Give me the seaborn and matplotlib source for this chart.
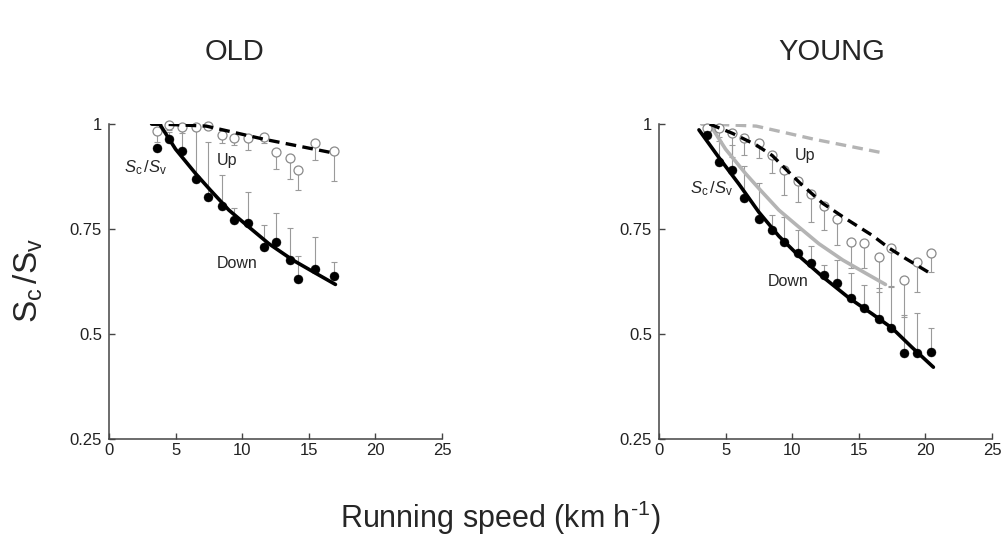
import matplotlib
matplotlib.use("Agg")
import matplotlib.pyplot as plt
import seaborn as sns
import numpy as np

# ---------------- data ----------------
old_speed = [3.6, 4.5, 5.5, 6.5, 7.4, 8.5, 9.4, 10.4, 11.6, 12.5, 13.6, 14.2, 15.5, 16.9]
old_down = [0.944, 0.964, 0.936, 0.870, 0.826, 0.805, 0.771, 0.764, 0.708, 0.718, 0.676, 0.632, 0.654, 0.638]
old_down_hi = [0.944, 0.980, 0.990, 0.986, 0.958, 0.878, 0.799, 0.839, 0.760, 0.787, 0.752, 0.686, 0.730, 0.671]
old_up = [0.984, 0.998, 0.994, 0.994, 0.996, 0.974, 0.966, 0.966, 0.970, 0.934, 0.918, 0.890, 0.955, 0.936]
old_up_lo = [0.958, 0.985, 0.978, 0.994, 0.996, 0.955, 0.950, 0.938, 0.955, 0.894, 0.868, 0.843, 0.914, 0.864]

old_fit_down_x = [3.2, 3.8, 5.0, 6.5, 7.6, 9.0, 10.3, 12.0, 13.8, 15.5, 17.0]
old_fit_down_y = [1.0, 1.0, 0.94, 0.882, 0.843, 0.795, 0.760, 0.715, 0.676, 0.645, 0.618]
old_fit_up_x = [3.2, 4.5, 7.3, 11.6, 17.0]
old_fit_up_y = [1.0, 0.999, 0.995, 0.964, 0.930]

young_speed = [3.6, 4.5, 5.5, 6.4, 7.5, 8.5, 9.4, 10.4, 11.4, 12.4, 13.4, 14.4, 15.4, 16.5, 17.4, 18.4, 19.4, 20.4]
young_down = [0.974, 0.910, 0.890, 0.823, 0.775, 0.748, 0.720, 0.694, 0.668, 0.640, 0.622, 0.585, 0.561, 0.535, 0.514, 0.455, 0.455, 0.458]
young_down_hi = [0.985, 0.960, 0.950, 0.900, 0.860, 0.783, 0.779, 0.748, 0.710, 0.664, 0.676, 0.645, 0.617, 0.609, 0.614, 0.545, 0.549, 0.514]
young_up = [0.990, 0.990, 0.978, 0.966, 0.954, 0.926, 0.890, 0.865, 0.833, 0.805, 0.775, 0.720, 0.716, 0.684, 0.705, 0.629, 0.672, 0.692]
young_up_lo = [0.975, 0.970, 0.922, 0.926, 0.918, 0.883, 0.831, 0.815, 0.767, 0.748, 0.712, 0.656, 0.656, 0.601, 0.613, 0.541, 0.600, 0.648]

young_fit_down_x = [3.0, 4.5, 6.0, 7.5, 9.0, 10.5, 12.3, 14.3, 16.0, 17.5, 19.0, 20.6]
young_fit_down_y = [0.986, 0.920, 0.857, 0.790, 0.733, 0.686, 0.636, 0.585, 0.548, 0.514, 0.468, 0.421]
young_fit_up_x = [3.8, 5.5, 7.3, 8.5, 9.6, 10.6, 12.3, 14.0, 16.0, 17.3, 18.5, 20.6]
young_fit_up_y = [1.0, 0.978, 0.950, 0.925, 0.890, 0.859, 0.811, 0.775, 0.735, 0.704, 0.680, 0.640]

x_ticks = [0, 5, 10, 15, 20, 25]
y_ticks = [0.25, 0.5, 0.75, 1.0]
y_tick_labels = ["0.25", "0.5", "0.75", "1"]

# ---------------- style ----------------
sns.set_theme(style="ticks")
plt.rcParams["font.family"] = ["Liberation Sans", "DejaVu Sans"]
plt.rcParams["mathtext.fontset"] = "custom"
plt.rcParams["mathtext.rm"] = "Liberation Sans"
plt.rcParams["mathtext.it"] = "Liberation Sans:italic"

fig = plt.figure(figsize=(10.01, 5.40), dpi=100)
ax_old = fig.add_axes([109 / 1001, 101 / 540, 333 / 1001, 315 / 540])
ax_young = fig.add_axes([659 / 1001, 101 / 540, 333 / 1001, 315 / 540])

GRAY_ERR = "#9a9a9a"
GRAY_FIT = "#b4b4b4"
DASH = (0, (3.2, 1.9))


def style_axes(ax):
    ax.set_xlim(0, 25)
    ax.set_ylim(0.25, 1.0)
    ax.set_xticks(x_ticks)
    ax.set_yticks(y_ticks)
    ax.set_yticklabels(y_tick_labels)
    for s in ["top", "right"]:
        ax.spines[s].set_visible(False)
    for s in ["left", "bottom"]:
        ax.spines[s].set_color("#444444")
        ax.spines[s].set_linewidth(1.1)
    ax.tick_params(axis="both", direction="in", length=4, width=1.0, color="#444444",
                   labelsize=12, labelcolor="#222222")
    ax.tick_params(axis="y", pad=5)
    ax.tick_params(axis="x", pad=3)
    ax.set_xlabel("")
    ax.set_ylabel("")
    ax.set_facecolor("white")


def draw_points(ax, xs, down, down_hi, up, up_lo):
    xs = np.asarray(xs)
    down = np.asarray(down)
    up = np.asarray(up)
    ax.errorbar(xs, down, yerr=[np.zeros_like(down), np.asarray(down_hi) - down],
                fmt="none", ecolor=GRAY_ERR, elinewidth=0.8, capsize=2.2, capthick=0.8, zorder=1,
                clip_on=False)
    ax.errorbar(xs, up, yerr=[up - np.asarray(up_lo), np.zeros_like(up)],
                fmt="none", ecolor=GRAY_ERR, elinewidth=0.8, capsize=2.2, capthick=0.8, zorder=1,
                clip_on=False)
    sns.scatterplot(x=xs, y=up, ax=ax, s=42, marker="o", facecolor="white",
                    edgecolor="#8a8a8a", linewidth=0.9, zorder=3, clip_on=False)
    sns.scatterplot(x=xs, y=down, ax=ax, s=42, marker="o", color="black",
                    edgecolor="black", linewidth=0.3, zorder=4, clip_on=False)


# ---------------- OLD ----------------
draw_points(ax_old, old_speed, old_down, old_down_hi, old_up, old_up_lo)
sns.lineplot(x=old_fit_down_x, y=old_fit_down_y, ax=ax_old, color="black", lw=2.6,
             sort=False, estimator=None, zorder=5)
sns.lineplot(x=old_fit_up_x, y=old_fit_up_y, ax=ax_old, color="black", lw=2.4,
             linestyle=DASH, sort=False, estimator=None, zorder=5)
style_axes(ax_old)
ax_old.text(1.1, 0.895, r"$S_{\rm c}\,/S_{\rm v}$", fontsize=12, va="center", ha="left")
ax_old.text(8.1, 0.912, "Up", fontsize=11.5, va="center", ha="left")
ax_old.text(8.1, 0.669, "Down", fontsize=11.5, va="center", ha="left")

# ---------------- YOUNG ----------------
sns.lineplot(x=old_fit_up_x, y=old_fit_up_y, ax=ax_young, color=GRAY_FIT, lw=2.4,
             linestyle=DASH, sort=False, estimator=None, zorder=2)
sns.lineplot(x=old_fit_down_x, y=old_fit_down_y, ax=ax_young, color=GRAY_FIT, lw=2.6,
             sort=False, estimator=None, zorder=2)
draw_points(ax_young, young_speed, young_down, young_down_hi, young_up, young_up_lo)
sns.lineplot(x=young_fit_down_x, y=young_fit_down_y, ax=ax_young, color="black", lw=2.6,
             sort=False, estimator=None, zorder=5)
sns.lineplot(x=young_fit_up_x, y=young_fit_up_y, ax=ax_young, color="black", lw=2.4,
             linestyle=DASH, sort=False, estimator=None, zorder=5)
style_axes(ax_young)
ax_young.text(2.3, 0.845, r"$S_{\rm c}\,/S_{\rm v}$", fontsize=12, va="center", ha="left")
ax_young.text(10.2, 0.926, "Up", fontsize=11.5, va="center", ha="left")
ax_young.text(8.2, 0.626, "Down", fontsize=11.5, va="center", ha="left")

# ---------------- figure texts ----------------
fig.text(234 / 1001, 1 - 52 / 540, "OLD", fontsize=21, ha="center", va="center")
fig.text(832 / 1001, 1 - 52 / 540, "YOUNG", fontsize=21, ha="center", va="center")
fig.text(500 / 1001, 1 - 518 / 540, r"Running speed (km h$^{\text{-1}}$)", fontsize=22,
         ha="center", va="center")
fig.text(12 / 1001, 1 - 280 / 540, r"$\mathrm{S_c\,/S_v}$", fontsize=24,
         rotation=90, ha="left", va="center")

fig.savefig("out.png", dpi=100, facecolor="white")
